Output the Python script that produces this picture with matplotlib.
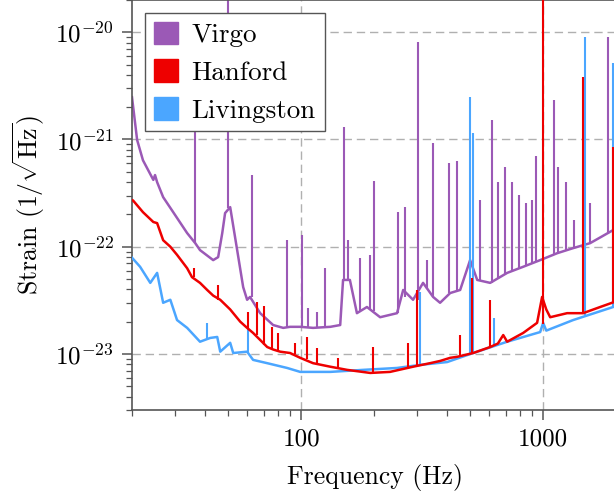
import numpy as np
import matplotlib
matplotlib.use('Agg')
import matplotlib.pyplot as plt
from matplotlib.patches import Patch

plt.rcParams['font.family'] = 'serif'
plt.rcParams['font.serif'] = ['cmr10']
plt.rcParams['mathtext.fontset'] = 'cm'
plt.rcParams['axes.formatter.use_mathtext'] = True
plt.rcParams['axes.unicode_minus'] = False

# detector colours
colors = {'Virgo': '#9b59b6', 'Hanford': '#ee0000', 'Livingston': '#4ba6ff'}

# Hanford broadband noise (Hz, strain/rtHz)
h_freq = [20, 20.2, 22.2, 24.5, 25.4, 26.9, 28.8, 30.7, 33.8, 35.4, 38.2, 40.9, 43.3,
          46.3, 50.9, 52.4, 56.0, 59.8, 63.3, 67.7, 72.4, 76.6, 81.9, 90, 99.1, 112,
          132, 155, 193, 233, 290, 341, 375, 413, 441, 514, 604, 650, 684, 710, 827,
          944, 990, 1030, 1069, 1256, 1463, 1720, 1966]
h_asd = [2.72e-22, 2.7e-22, 2.1e-22, 1.7e-22, 1.66e-22, 1.15e-22, 1.0e-22, 8.4e-23,
         6.3e-23, 5.2e-23, 4.6e-23, 3.95e-23, 3.5e-23, 3.2e-23, 2.6e-23, 2.4e-23,
         2.0e-23, 1.75e-23, 1.57e-23, 1.35e-23, 1.16e-23, 1.1e-23, 1.05e-23, 1.02e-23,
         9.2e-24, 8.2e-24, 7.6e-24, 7.1e-24, 6.65e-24, 6.8e-24, 7.6e-24, 8.2e-24,
         8.6e-24, 9.2e-24, 9.4e-24, 1.02e-23, 1.16e-23, 1.25e-23, 1.5e-23, 1.3e-23,
         1.57e-23, 1.95e-23, 3.4e-23, 2.6e-23, 2.2e-23, 2.4e-23, 2.4e-23, 2.74e-23,
         3.05e-23]
# Hanford lines: frequency, floor, peak
h_line_freq = [36.1, 45.4, 60.4, 65.8, 70.3, 75.9, 80.4, 94.4, 106, 116, 142, 198,
               277, 302, 454, 509, 604, 1000, 1463, 1940]
h_line_lo = [5.2e-23, 3.2e-23, 1.75e-23, 1.5e-23, 1.2e-23, 1.1e-23, 1.05e-23, 1.0e-23,
             9.0e-24, 8.2e-24, 7.4e-24, 6.7e-24, 7.3e-24, 7.6e-24, 9.6e-24, 1.02e-23,
             1.16e-23, 1.9e-23, 2.4e-23, 3.0e-23]
h_line_hi = [6.3e-23, 4.4e-23, 2.46e-23, 3.05e-23, 2.8e-23, 1.79e-23, 1.57e-23, 1.27e-23,
             1.44e-23, 1.14e-23, 9.2e-24, 1.16e-23, 1.27e-23, 3.95e-23, 1.5e-23, 5.1e-23,
             3.2e-23, 3e-20, 3.8e-21, 8.5e-22]

# Livingston broadband noise
l_freq = [20, 21.6, 23.8, 25.4, 26.9, 28.8, 30.7, 33.8, 38.2, 42.1, 45, 46.3, 50.9,
          52.4, 59.8, 63.3, 72.4, 87.5, 99.1, 132, 180, 249, 310, 401, 514, 710, 972,
          1000, 1030, 1330, 1947]
l_asd = [7.9e-23, 6.5e-23, 4.6e-23, 5.7e-23, 3.0e-23, 3.2e-23, 2.07e-23, 1.75e-23,
         1.3e-23, 1.41e-23, 1.44e-23, 1.05e-23, 1.27e-23, 1.02e-23, 1.05e-23, 8.8e-24,
         8.2e-24, 7.4e-24, 6.8e-24, 6.8e-24, 7.1e-24, 7.4e-24, 7.9e-24, 8.4e-24,
         1.02e-23, 1.3e-23, 1.6e-23, 1.95e-23, 1.65e-23, 2.07e-23, 2.74e-23]
l_line_freq = [40.9, 60.4, 311, 499, 514, 627, 1492, 1947]
l_line_lo = [1.35e-23, 1.05e-23, 7.9e-24, 1.0e-23, 1.02e-23, 1.2e-23, 2.3e-23, 2.74e-23]
l_line_hi = [1.95e-23, 1.75e-23, 3.8e-23, 2.48e-21, 1.15e-21, 2.17e-23, 9.0e-21, 5.15e-21]

# Virgo broadband noise
v_freq = [20, 21, 22.2, 24.5, 24.9, 25.4, 26.9, 29.6, 33.8, 36.5, 38.2, 43.3, 45.4,
          47.2, 48.5, 50.9, 54.4, 57.6, 59.8, 61.5, 67.7, 76.6, 84.3, 90, 99.1, 112,
          132, 145, 149, 159, 170, 187, 212, 249, 264, 290, 319, 351, 375, 413, 454,
          499, 534, 604, 710, 827, 972, 1143, 1330, 1564, 1947]
v_asd = [2.48e-21, 9.9e-22, 6.4e-22, 4.2e-22, 4.66e-22, 4.0e-22, 2.9e-22, 2.1e-22,
         1.34e-22, 1.08e-22, 9.3e-23, 7.5e-23, 8.0e-23, 1.34e-22, 2.06e-22, 2.34e-22,
         9.3e-23, 4.2e-23, 3.2e-23, 3.4e-23, 2.4e-23, 1.86e-23, 1.75e-23, 1.79e-23,
         1.79e-23, 1.75e-23, 1.79e-23, 1.86e-23, 4.9e-23, 4.9e-23, 2.4e-23, 2.74e-23,
         2.2e-23, 2.4e-23, 3.95e-23, 3.2e-23, 4.6e-23, 3.4e-23, 3.0e-23, 3.7e-23,
         3.95e-23, 7.5e-23, 4.9e-23, 4.6e-23, 5.7e-23, 6.5e-23, 7.5e-23, 8.7e-23,
         9.7e-23, 1.08e-22, 1.43e-22]
v_line_freq = [36.5, 50.0, 62.7, 87.5, 100.9, 106.9, 116.4, 125.6, 150.6, 156.4, 175.3,
               192.8, 200.3, 251.7, 269, 304.4, 331.6, 351.2, 408.9, 441.2, 549.1,
               615.5, 651.6, 696.6, 744.5, 795.8, 850.6, 900.4, 935.4, 1110, 1153, 1244,
               1343, 1564, 1856]
v_line_lo = [1.08e-22, 2.3e-22, 3.4e-23, 1.79e-23, 1.79e-23, 1.75e-23, 1.75e-23, 1.79e-23,
             4.9e-23, 4.9e-23, 2.5e-23, 2.6e-23, 2.5e-23, 2.4e-23, 3.4e-23, 3.2e-23,
             4.0e-23, 3.4e-23, 3.7e-23, 3.9e-23, 4.9e-23, 4.6e-23, 5.0e-23, 5.5e-23,
             5.8e-23, 6.2e-23, 6.7e-23, 7.0e-23, 7.2e-23, 8.5e-23, 8.7e-23, 9.2e-23,
             9.7e-23, 1.08e-22, 1.3e-22]
v_line_hi = [1.42e-21, 3e-20, 4.66e-22, 1.15e-22, 1.29e-22, 2.7e-23, 2.46e-23, 6.3e-23,
             1.31e-21, 1.15e-22, 7.9e-23, 8.4e-23, 4.1e-22, 2.1e-22, 2.34e-22, 8.1e-21,
             7.5e-23, 9.25e-22, 6.0e-22, 6.3e-22, 2.72e-22, 1.52e-21, 4.0e-22, 5.5e-22,
             4.0e-22, 3.03e-22, 2.55e-22, 2.72e-22, 7.0e-22, 2.33e-21, 5.5e-22, 4.0e-22,
             1.77e-22, 2.55e-22, 9.0e-21]

fig = plt.figure(figsize=(6.14, 4.94), dpi=100)
# right spine falls just outside the picture, like the reference crop
ax = fig.add_axes([132 / 614, 84 / 494, 486.5 / 614, 410 / 494])

ax.plot(v_freq, v_asd, color=colors['Virgo'], lw=1.8, zorder=2)
ax.vlines(v_line_freq, v_line_lo, v_line_hi, color=colors['Virgo'], lw=1.5, zorder=2)
ax.plot(l_freq, l_asd, color=colors['Livingston'], lw=1.8, zorder=3)
ax.vlines(l_line_freq, l_line_lo, l_line_hi, color=colors['Livingston'], lw=1.5, zorder=3)
ax.plot(h_freq, h_asd, color=colors['Hanford'], lw=1.8, zorder=4)
ax.vlines(h_line_freq, h_line_lo, h_line_hi, color=colors['Hanford'], lw=1.5, zorder=4)

ax.set_xscale('log')
ax.set_yscale('log')
ax.set_xlim(20, 2048)
ax.set_ylim(3e-24, 2e-20)

ax.set_xticks([100, 1000])
ax.set_xticklabels(['100', '1000'])
ax.set_yticks([1e-23, 1e-22, 1e-21, 1e-20])
ax.xaxis.set_minor_formatter(plt.NullFormatter())
ax.yaxis.set_minor_formatter(plt.NullFormatter())

ax.grid(True, which='major', color='#b0b0b0', lw=1.0, linestyle=(0, (6, 3.5)))
ax.set_axisbelow(True)

for s in ax.spines.values():
    s.set_color('#555555')
    s.set_linewidth(1.2)
ax.tick_params(which='major', length=7, width=1.1, color='#555555', labelsize=18, pad=6)
ax.tick_params(which='minor', length=4, width=0.9, color='#555555')

ax.set_xlabel('Frequency (Hz)', fontsize=18.5, labelpad=10)
ax.set_ylabel(r'Strain $(1/\sqrt{\mathrm{Hz}})$', fontsize=18.5, labelpad=6)

handles = [Patch(facecolor=colors[k], edgecolor=colors[k]) for k in ['Virgo', 'Hanford', 'Livingston']]
leg = ax.legend(handles, ['Virgo', 'Hanford', 'Livingston'], loc='upper left', fontsize=19.5,
                fancybox=False, framealpha=1, edgecolor='#555555', handlelength=0.9,
                handleheight=0.9, borderaxespad=0.48, labelspacing=0.45, handletextpad=0.5,
                borderpad=0.32)
leg.get_frame().set_linewidth(1.0)

fig.savefig('out.png', dpi=100)
